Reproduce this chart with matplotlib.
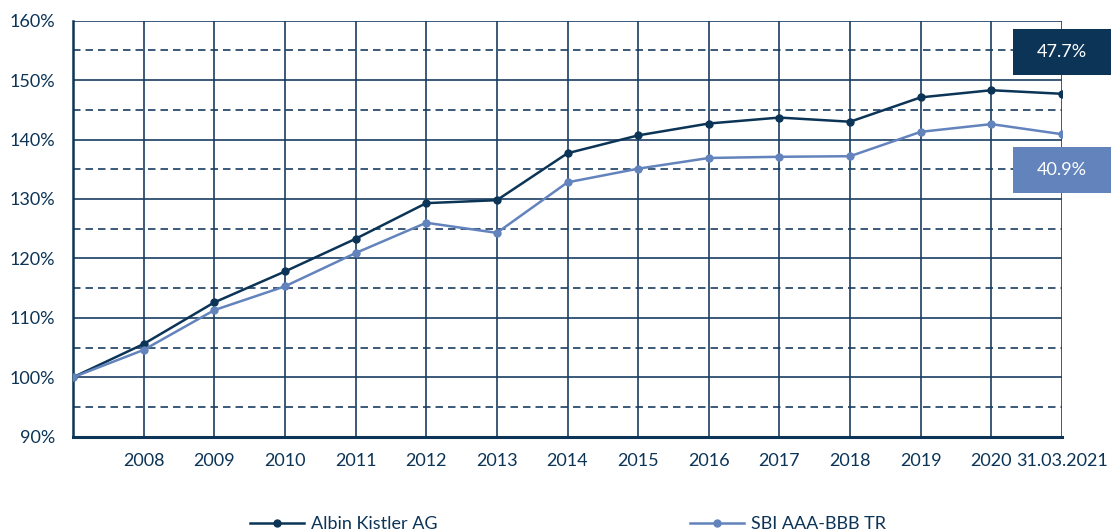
import matplotlib.pyplot as plt
from matplotlib.lines import Line2D
from matplotlib.patches import Rectangle

plt.rcParams['font.family'] = ['Lato', 'DejaVu Sans']

NAVY = '#0b3457'
LIGHT = '#6383bd'
GRID = '#1a3d61'

x_labels = ['', '2008', '2009', '2010', '2011', '2012', '2013', '2014', '2015',
            '2016', '2017', '2018', '2019', '2020', '31.03.2021']
albin = [100, 105.6, 112.6, 117.8, 123.3, 129.3, 129.8, 137.7, 140.7,
         142.7, 143.7, 143.0, 147.1, 148.3, 147.7]
sbi = [100, 104.6, 111.3, 115.3, 120.9, 126.0, 124.3, 132.8, 135.1,
       136.9, 137.1, 137.2, 141.3, 142.6, 140.9]
names = ['Albin Kistler AG', 'SBI AAA-BBB TR']

xs = list(range(len(x_labels)))

fig = plt.figure(figsize=(11.2, 5.32), dpi=100)
ax = fig.add_axes([73 / 1120, 1 - 436.7 / 532, (1062 - 73) / 1120, (436.7 - 20.7) / 532])

# grid: solid every 10%, dashed in between
for v in range(90, 161, 10):
    ax.axhline(v, color=GRID, lw=1.2, zorder=1)
for v in range(95, 160, 10):
    ax.axhline(v, color=GRID, lw=1.2, ls=(0, (4.5, 3)), zorder=1)
for x in xs:
    ax.axvline(x, color=GRID, lw=1.2, zorder=1)

ax.plot(xs, albin, color=NAVY, lw=1.8, marker='o', ms=5, zorder=3)
ax.plot(xs, sbi, color=LIGHT, lw=1.8, marker='o', ms=5, zorder=3)

ax.set_xlim(0, len(xs) - 1)
ax.set_ylim(90, 160)
ax.set_xticks(xs)
ax.set_xticklabels(x_labels)
ax.set_yticks(range(90, 161, 10))
ax.set_yticklabels([f'{v}%' for v in range(90, 161, 10)])
ax.tick_params(length=0, labelsize=13, labelcolor=NAVY)
ax.tick_params(axis='y', pad=13)
ax.tick_params(axis='x', pad=12)

for s in ['top', 'right']:
    ax.spines[s].set_visible(False)
ax.spines['left'].set_color(NAVY)
ax.spines['left'].set_linewidth(1.8)
ax.spines['bottom'].set_color(NAVY)
ax.spines['bottom'].set_linewidth(2.2)

# end labels
last = xs[-1]
for val, yc, col in [(albin[-1], 154.7, NAVY), (sbi[-1], 134.9, LIGHT)]:
    ax.add_patch(Rectangle((last - 0.7, yc - 3.87), 1.4, 7.74, facecolor=col,
                           edgecolor='none', clip_on=False, zorder=5))
    ax.text(last, yc, f'{val - 100:.1f}%', color='white', fontsize=13,
            ha='center', va='center', zorder=6, clip_on=False)

# legend
h1 = Line2D([], [], color=NAVY, lw=1.8, marker='o', ms=5)
h2 = Line2D([], [], color=LIGHT, lw=1.8, marker='o', ms=5)
for h, n, x0 in [(h1, names[0], 250), (h2, names[1], 690)]:
    fig.legend([h], [n], loc='center left', bbox_to_anchor=(x0 / 1120, 1 - 524 / 532),
               frameon=False, fontsize=13, handlelength=3.0, handletextpad=0.4,
               borderpad=0, borderaxespad=0, labelcolor=NAVY)

fig.savefig('out.png', dpi=100)
